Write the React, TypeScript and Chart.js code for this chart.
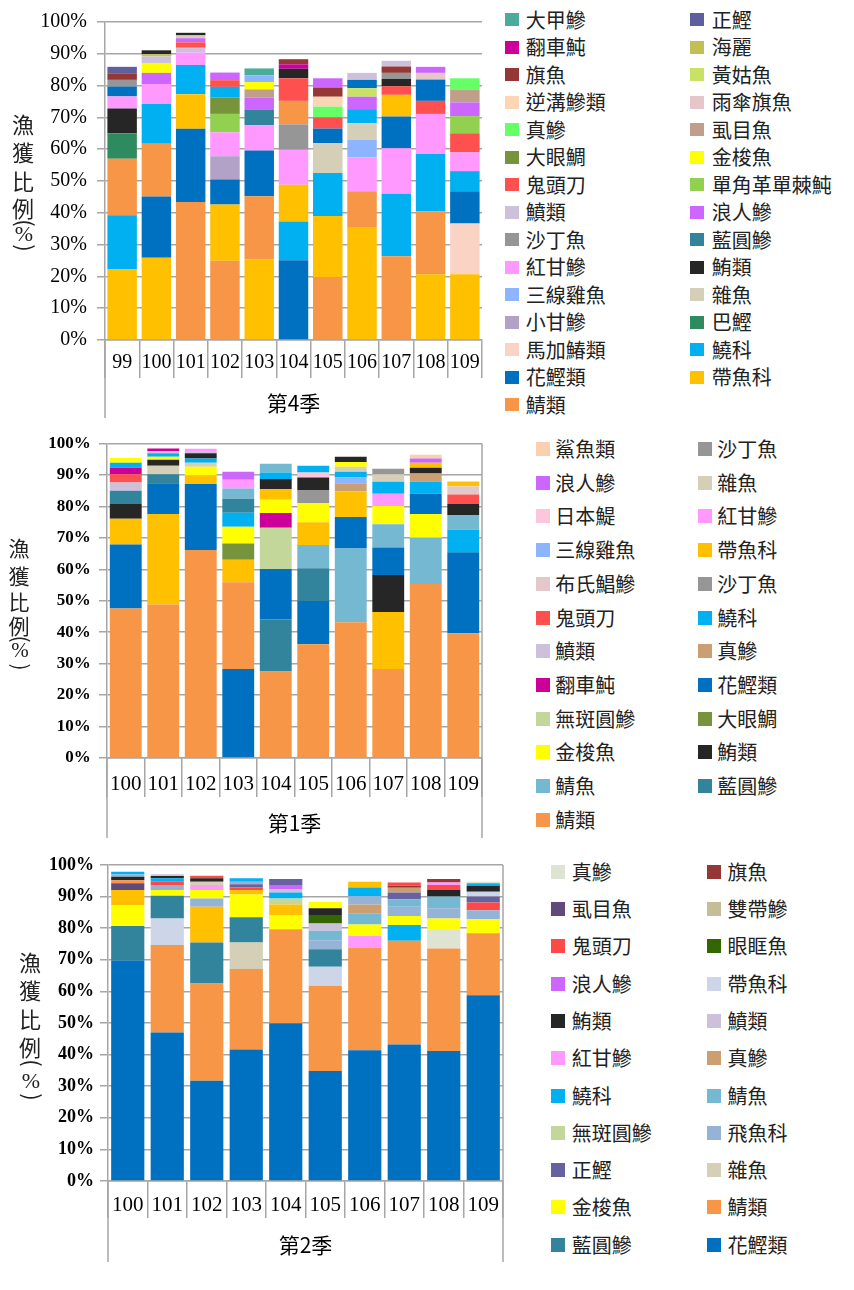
import React, { useEffect, useRef } from 'react';
import { Chart, registerables } from 'chart.js';

Chart.register(...registerables);

const SERIF = '"Liberation Serif", "Times New Roman", serif';
const CJK = '"Noto Sans CJK TC", "Noto Sans CJK SC", sans-serif';
const GRID = '#a6a6a6';

// ---------------- 第4季 ----------------
const q4Years = ['99', '100', '101', '102', '103', '104', '105', '106', '107', '108', '109'];
const q4Species: string[][] = [
  ['帶魚科', '鱙科', '鯖類', '巴鰹', '鮪類', '紅甘鰺', '花鰹類', '沙丁魚', '旗魚', '正鰹'],
  ['帶魚科', '花鰹類', '鯖類', '鱙科', '紅甘鰺', '浪人鰺', '金梭魚', '鱝類', '海麗', '鮪類'],
  ['鯖類', '花鰹類', '帶魚科', '鱙科', '紅甘鰺', '鱝類', '鬼頭刀', '浪人鰺', '雜魚', '鮪類'],
  ['鯖類', '帶魚科', '花鰹類', '小甘鰺', '紅甘鰺', '單角革單棘魨', '大眼鯛', '鱙科', '鬼頭刀', '浪人鰺'],
  ['帶魚科', '鯖類', '花鰹類', '紅甘鰺', '藍圓鰺', '浪人鰺', '虱目魚', '金梭魚', '三線雞魚', '大甲鰺'],
  ['花鰹類', '鱙科', '帶魚科', '紅甘鰺', '沙丁魚', '鯖類', '鬼頭刀', '鮪類', '翻車魨', '旗魚'],
  ['鯖類', '帶魚科', '鱙科', '雜魚', '花鰹類', '鬼頭刀', '真鰺', '逆溝鰺類', '旗魚', '浪人鰺'],
  ['帶魚科', '鯖類', '紅甘鰺', '三線雞魚', '雜魚', '鱙科', '浪人鰺', '黃姑魚', '花鰹類', '鱝類'],
  ['鯖類', '鱙科', '紅甘鰺', '花鰹類', '帶魚科', '鬼頭刀', '鮪類', '沙丁魚', '旗魚', '鱝類'],
  ['帶魚科', '鯖類', '鱙科', '紅甘鰺', '鬼頭刀', '花鰹類', '雨傘旗魚', '浪人鰺'],
  ['帶魚科', '馬加鰆類', '花鰹類', '鱙科', '紅甘鰺', '鬼頭刀', '單角革單棘魨', '浪人鰺', '虱目魚', '真鰺'],
];
const q4Values: number[][] = [
  [22.3, 16.9, 17.8, 8.0, 7.8, 3.8, 3.1, 2.1, 1.9, 2.2],
  [25.9, 19.2, 16.6, 12.5, 6.3, 3.5, 3.1, 2.1, 0.7, 1.2],
  [43.4, 23.0, 10.9, 9.2, 3.9, 1.5, 1.7, 1.3, 0.9, 0.8],
  [24.9, 17.7, 7.9, 7.3, 7.5, 5.8, 5.1, 3.4, 2.1, 2.4],
  [25.3, 19.9, 14.4, 8.0, 4.9, 3.7, 2.6, 2.3, 2.1, 2.2],
  [25.1, 12.2, 11.5, 11.0, 8.0, 7.4, 7.1, 3.0, 1.4, 1.6],
  [19.8, 19.2, 13.5, 9.4, 4.6, 3.5, 3.4, 3.1, 2.9, 2.9],
  [35.3, 11.5, 10.7, 5.5, 5.2, 4.4, 3.9, 2.7, 2.6, 2.2],
  [26.3, 19.7, 14.3, 10.0, 6.8, 2.7, 2.3, 1.9, 2.0, 1.8],
  [20.7, 19.7, 18.1, 12.6, 4.1, 6.7, 2.1, 1.9],
  [20.7, 15.9, 10.2, 6.3, 5.9, 6.0, 5.4, 4.3, 3.9, 3.7],
];
const q4LegendLeft = ['大甲鰺', '翻車魨', '旗魚', '逆溝鰺類', '真鰺', '大眼鯛', '鬼頭刀', '鱝類', '沙丁魚', '紅甘鰺', '三線雞魚', '小甘鰺', '馬加鰆類', '花鰹類', '鯖類'];
const q4LegendRight = ['正鰹', '海麗', '黃姑魚', '雨傘旗魚', '虱目魚', '金梭魚', '單角革單棘魨', '浪人鰺', '藍圓鰺', '鮪類', '雜魚', '巴鰹', '鱙科', '帶魚科'];
const q4Colors: Record<string, string> = {
  '大甲鰺': '#4bab9c', '翻車魨': '#cc0099', '旗魚': '#953735', '逆溝鰺類': '#fcd5b5', '真鰺': '#66ff66',
  '大眼鯛': '#77933c', '鬼頭刀': '#ff5050', '鱝類': '#ccc0da', '沙丁魚': '#969696', '紅甘鰺': '#ff99ff',
  '三線雞魚': '#8db4ff', '小甘鰺': '#b3a2c7', '馬加鰆類': '#fad3c5', '花鰹類': '#0070c0', '鯖類': '#f79646',
  '正鰹': '#5f5f9f', '海麗': '#c3be55', '黃姑魚': '#c9e265', '雨傘旗魚': '#e6c6c8', '虱目魚': '#bf9e8a',
  '金梭魚': '#ffff00', '單角革單棘魨': '#92d050', '浪人鰺': '#cc66ff', '藍圓鰺': '#31849b', '鮪類': '#262626',
  '雜魚': '#d5cfb7', '巴鰹': '#2e8b5f', '鱙科': '#00b0f0', '帶魚科': '#ffc000',
};

// ---------------- 第1季 ----------------
const q1Years = ['100', '101', '102', '103', '104', '105', '106', '107', '108', '109'];
const q1Species: string[][] = [
  ['鯖類', '花鰹類', '帶魚科', '鮪類', '藍圓鰺', '鱝類', '鬼頭刀', '翻車魨', '鱙科', '金梭魚'],
  ['鯖類', '帶魚科', '花鰹類', '藍圓鰺', '雜魚', '鮪類', '金梭魚', '鱙科', '鱝類', '翻車魨'],
  ['鯖類', '花鰹類', '帶魚科', '金梭魚', '雜魚', '鱙科', '鮪類', '鱝類', '紅甘鰺'],
  ['花鰹類', '鯖類', '帶魚科', '大眼鯛', '金梭魚', '鱙科', '藍圓鰺', '鯖魚', '紅甘鰺', '浪人鰺'],
  ['鯖類', '藍圓鰺', '花鰹類', '無斑圓鰺', '翻車魨', '金梭魚', '帶魚科', '鮪類', '鱙科', '鯖魚'],
  ['鯖類', '花鰹類', '藍圓鰺', '鯖魚', '帶魚科', '金梭魚', '沙丁魚', '鮪類', '日本鯷', '鱙科'],
  ['鯖類', '鯖魚', '花鰹類', '帶魚科', '真鰺', '三線雞魚', '鱙科', '雜魚', '金梭魚', '鮪類'],
  ['鯖類', '帶魚科', '鮪類', '花鰹類', '鯖魚', '金梭魚', '紅甘鰺', '鱙科', '雜魚', '沙丁魚'],
  ['鯖類', '鯖魚', '金梭魚', '花鰹類', '鱙科', '真鰺', '鮪類', '帶魚科', '浪人鰺', '鯊魚類'],
  ['鯖類', '花鰹類', '鱙科', '鯖魚', '鮪類', '鬼頭刀', '布氏鯧鰺', '帶魚科'],
];
const q1Values: number[][] = [
  [47.5, 20.4, 8.2, 4.7, 4.2, 2.6, 2.6, 2.1, 1.6, 1.5],
  [48.8, 28.8, 9.8, 2.8, 2.7, 1.9, 1.0, 1.1, 0.6, 0.9],
  [66.1, 21.0, 2.8, 2.7, 1.3, 1.3, 1.7, 0.7, 0.7],
  [28.3, 27.6, 7.1, 5.2, 5.3, 4.5, 4.4, 3.3, 2.8, 2.5],
  [27.5, 16.6, 16.0, 13.1, 4.7, 4.2, 3.4, 3.2, 2.1, 2.8],
  [36.2, 13.7, 10.4, 7.4, 7.3, 6.1, 4.1, 4.0, 1.6, 2.1],
  [43.2, 23.4, 10.0, 8.1, 2.7, 1.8, 1.8, 1.6, 1.5, 1.7],
  [28.3, 18.1, 11.8, 8.7, 7.4, 5.8, 3.9, 3.8, 2.4, 1.8],
  [55.3, 14.7, 7.6, 6.4, 3.8, 2.7, 1.8, 1.6, 1.3, 1.2],
  [39.7, 25.7, 7.2, 4.7, 3.5, 3.0, 2.6, 1.5],
];
const q1LegendLeft = ['鯊魚類', '浪人鰺', '日本鯷', '三線雞魚', '布氏鯧鰺', '鬼頭刀', '鱝類', '翻車魨', '無斑圓鰺', '金梭魚', '鯖魚', '鯖類'];
const q1LegendRight = ['沙丁魚', '雜魚', '紅甘鰺', '帶魚科', '沙丁魚#2', '鱙科', '真鰺', '花鰹類', '大眼鯛', '鮪類', '藍圓鰺'];
const q1Colors: Record<string, string> = {
  '鯊魚類': '#fad0b0', '浪人鰺': '#cc66ff', '日本鯷': '#fcc6dc', '三線雞魚': '#8db4ff', '布氏鯧鰺': '#e2c8c8',
  '鬼頭刀': '#ff5050', '鱝類': '#ccc0da', '翻車魨': '#cc0099', '無斑圓鰺': '#c4d79b', '金梭魚': '#ffff00',
  '鯖魚': '#74b8d2', '鯖類': '#f79646', '沙丁魚': '#969696', '雜魚': '#d5cfb7', '紅甘鰺': '#ff99ff',
  '帶魚科': '#ffc000', '沙丁魚#2': '#969696', '鱙科': '#00b0f0', '真鰺': '#cc9f72', '花鰹類': '#0070c0',
  '大眼鯛': '#77933c', '鮪類': '#262626', '藍圓鰺': '#31849b',
};

// ---------------- 第2季 ----------------
const q2Years = ['100', '101', '102', '103', '104', '105', '106', '107', '108', '109'];
const q2Species: string[][] = [
  ['花鰹類', '藍圓鰺', '金梭魚', '其他', '虱目魚', '鯖類', '鮪類', '飛魚科', '鱙科'],
  ['花鰹類', '鯖類', '帶魚科', '藍圓鰺', '金梭魚', '飛魚科', '鬼頭刀', '鱙科', '鮪類', '鱝類'],
  ['花鰹類', '鯖類', '藍圓鰺', '其他', '飛魚科', '金梭魚', '紅甘鰺', '雜魚', '鮪類', '鬼頭刀'],
  ['花鰹類', '鯖類', '雜魚', '藍圓鰺', '金梭魚', '其他', '鬼頭刀', '正鰹', '飛魚科', '鱙科'],
  ['花鰹類', '鯖類', '金梭魚', '其他', '無斑圓鰺', '鱙科', '鱝類', '浪人鰺', '正鰹'],
  ['花鰹類', '鯖類', '帶魚科', '藍圓鰺', '飛魚科', '鯖魚', '鱝類', '眼眶魚', '鮪類', '金梭魚'],
  ['花鰹類', '鯖類', '紅甘鰺', '金梭魚', '鯖魚', '真鰺', '飛魚科', '鱙科', '其他'],
  ['花鰹類', '鯖類', '鱙科', '金梭魚', '飛魚科', '鯖魚', '正鰹', '真鰺', '旗魚', '鬼頭刀'],
  ['花鰹類', '鯖類', '真鰺#2', '金梭魚', '飛魚科', '鯖魚', '鮪類', '鬼頭刀', '紅甘鰺', '旗魚'],
  ['花鰹類', '鯖類', '金梭魚', '飛魚科', '鬼頭刀', '正鰹', '帶魚科', '鮪類', '鱙科', '真鰺#2'],
];
const q2Values: number[][] = [
  [69.8, 10.9, 6.6, 4.8, 2.1, 1.0, 1.1, 0.7, 0.9],
  [47.0, 27.7, 8.4, 7.2, 1.8, 1.6, 1.0, 1.1, 0.7, 0.6],
  [31.7, 30.8, 13.0, 11.3, 2.6, 2.7, 1.6, 1.0, 1.1, 0.8],
  [41.6, 25.5, 8.4, 8.0, 7.2, 1.4, 0.8, 1.0, 0.8, 1.1],
  [49.9, 29.8, 4.5, 3.3, 1.9, 1.9, 1.1, 1.3, 1.9],
  [34.8, 27.0, 6.0, 5.5, 2.9, 3.0, 2.3, 2.7, 2.1, 2.1],
  [41.4, 32.4, 3.7, 3.7, 3.5, 2.8, 2.7, 2.7, 1.8],
  [43.2, 32.8, 5.0, 2.9, 2.9, 2.4, 2.1, 1.5, 0.6, 1.1],
  [41.1, 32.5, 5.8, 3.7, 3.2, 3.7, 2.1, 1.6, 0.8, 1.1],
  [58.8, 19.6, 4.4, 2.9, 2.4, 1.9, 1.5, 1.9, 0.8, 0.5],
];
const q2LegendLeft = ['真鰺#2', '虱目魚', '鬼頭刀', '浪人鰺', '鮪類', '紅甘鰺', '鱙科', '無斑圓鰺', '正鰹', '金梭魚', '藍圓鰺'];
const q2LegendRight = ['旗魚', '雙帶鰺', '眼眶魚', '帶魚科', '鱝類', '真鰺', '鯖魚', '飛魚科', '雜魚', '鯖類', '花鰹類'];
const q2Colors: Record<string, string> = {
  '真鰺#2': '#dfe4d2', '虱目魚': '#604a7b', '鬼頭刀': '#ff4848', '浪人鰺': '#cc66ff', '鮪類': '#262626',
  '紅甘鰺': '#ff99ff', '鱙科': '#00b0f0', '無斑圓鰺': '#c4d79b', '正鰹': '#66629f', '金梭魚': '#ffff00',
  '藍圓鰺': '#31849b', '旗魚': '#953735', '雙帶鰺': '#c4bd97', '眼眶魚': '#336600', '帶魚科': '#cdd5e8',
  '鱝類': '#ccc0da', '真鰺': '#cc9f72', '鯖魚': '#74b8d2', '飛魚科': '#95b3d7', '雜魚': '#d5cfb7',
  '鯖類': '#f79646', '花鰹類': '#0070c0', '其他': '#ffc000',
};

const yTitleChars = Array.from('漁獲比例(%)');

type Layout = {
  top: number; width: number; height: number;
  left: number; right: number; areaTop: number; areaBottom: number;
  yFont: number; yWeight: string; yPad: number;
  xFont: number; xPad: number; sepLen: number; titlePb: number; title: string;
  drop: number; rightFrame: boolean; barPct: number;
  yTitleX: number; yTitleYs: number[]; yTitleSize: number;
};

type Block = {
  layout: Layout; years: string[]; species: string[][]; values: number[][];
  colors: Record<string, string>; legendLeft: string[]; legendRight: string[];
  legend: { lx: number; rx: number; gapL: number; gapR: number; firstY: number; pitch: number; boxW: number; boxH: number };
};

const blocks: Block[] = [
  {
    layout: {
      top: 0, width: 500, height: 425, left: 105, right: 482, areaTop: 21, areaBottom: 340,
      yFont: 20, yWeight: 'normal', yPad: 10, xFont: 20, xPad: -27, sepLen: 38, titlePb: 9.4, title: '第4季',
      drop: 78, rightFrame: false, barPct: 0.86, yTitleX: 23, yTitleYs: [125, 153, 182, 209, 223, 235, 248], yTitleSize: 22,
    },
    years: q4Years, species: q4Species, values: q4Values, colors: q4Colors,
    legendLeft: q4LegendLeft, legendRight: q4LegendRight,
    legend: { lx: 505, rx: 690, gapL: 20.7, gapR: 21.7, firstY: 19.5, pitch: 27.5, boxW: 14, boxH: 13 },
  },
  {
    layout: {
      top: 425, width: 500, height: 420, left: 107, right: 482, areaTop: 441, areaBottom: 758,
      yFont: 17, yWeight: 'bold', yPad: 8.3, xFont: 21, xPad: -25.6, sepLen: 39, titlePb: 9.7, title: '第1季',
      drop: 80, rightFrame: true, barPct: 0.85, yTitleX: 19, yTitleYs: [548, 576, 602, 626, 639, 651, 667], yTitleSize: 21,
    },
    years: q1Years, species: q1Species, values: q1Values, colors: q1Colors,
    legendLeft: q1LegendLeft, legendRight: q1LegendRight,
    legend: { lx: 536, rx: 698, gapL: 19.3, gapR: 19.3, firstY: 449, pitch: 33.7, boxW: 14, boxH: 14 },
  },
  {
    layout: {
      top: 845, width: 520, height: 430, left: 108, right: 503, areaTop: 865, areaBottom: 1181,
      yFont: 18, yWeight: 'bold', yPad: 6, xFont: 21, xPad: -24.9, sepLen: 37, titlePb: 17.4, title: '第2季',
      drop: 81, rightFrame: true, barPct: 0.84, yTitleX: 30, yTitleYs: [963, 991, 1020, 1048, 1063, 1082, 1097], yTitleSize: 22,
    },
    years: q2Years, species: q2Species, values: q2Values, colors: q2Colors,
    legendLeft: q2LegendLeft, legendRight: q2LegendRight,
    legend: { lx: 551, rx: 707, gapL: 20.7, gapR: 20.6, firstY: 871.7, pitch: 37.3, boxW: 14, boxH: 14 },
  },
];

const labelOf = (k: string) => k.split('#')[0];

function StackedChart({ block }: { block: Block }) {
  const ref = useRef<HTMLCanvasElement>(null);
  useEffect(() => {
    const L = block.layout;
    const n = Math.max(...block.values.map((v) => v.length));
    const datasets = Array.from({ length: n }, (_, i) => ({
      label: '第' + (i + 1) + '層',
      data: block.values.map((v) => (v[i] === undefined ? null : v[i])),
      backgroundColor: block.species.map((s) => (s[i] ? block.colors[s[i]] : 'rgba(0,0,0,0)')),
      borderWidth: 0,
      barPercentage: L.barPct,
      categoryPercentage: 1,
    }));
    const extras = {
      id: 'extras',
      afterDraw(chart: any) {
        const ctx = chart.ctx;
        const a = chart.chartArea;
        ctx.save();
        ctx.strokeStyle = GRID;
        ctx.lineWidth = 1.5;
        ctx.beginPath();
        ctx.moveTo(a.left, a.bottom);
        ctx.lineTo(a.left, a.bottom + L.drop);
        if (L.rightFrame) {
          ctx.moveTo(a.right, a.top);
          ctx.lineTo(a.right, a.bottom + L.drop);
        }
        ctx.stroke();
        ctx.fillStyle = '#222';
        ctx.textAlign = 'center';
        ctx.textBaseline = 'middle';
        const fs = L.yTitleSize;
        yTitleChars.forEach((ch, i) => {
          const x = L.yTitleX;
          const y = L.yTitleYs[i] - L.top;
          if (ch === '(' || ch === ')') {
            ctx.save();
            ctx.translate(x + 2, y);
            ctx.rotate(Math.PI / 2);
            ctx.font = `${fs}px ${CJK}`;
            ctx.fillText(ch, 0, 0);
            ctx.restore();
          } else if (ch === '%') {
            ctx.font = `${fs}px ${SERIF}`;
            ctx.fillText(ch, x + 1, y);
          } else {
            ctx.font = `${fs}px ${CJK}`;
            ctx.fillText(ch, x, y);
          }
        });
        ctx.restore();
      },
    };
    const chart = new Chart(ref.current as HTMLCanvasElement, {
      type: 'bar',
      data: { labels: block.years, datasets },
      plugins: [extras],
      options: {
        responsive: false,
        maintainAspectRatio: false,
        animation: false,
        layout: { padding: { left: 0, top: L.areaTop - L.top, right: L.width - L.right, bottom: 0 } },
        plugins: { legend: { display: false }, tooltip: { enabled: false } },
        scales: {
          x: {
            stacked: true,
            offset: true,
            grid: { offset: true, drawOnChartArea: false, drawTicks: true, tickLength: L.sepLen, color: GRID, lineWidth: 1.5 },
            border: { display: true, color: GRID, width: 1.5 },
            ticks: { font: { family: SERIF, size: L.xFont }, color: '#000', padding: L.xPad, maxRotation: 0, autoSkip: false },
            title: {
              display: true, text: L.title, color: '#000',
              font: { family: CJK, size: 21 }, padding: { top: 0, bottom: L.titlePb },
            },
            afterFit: (s: any) => { s.height = L.top + L.height - L.areaBottom; },
          },
          y: {
            stacked: true,
            min: 0,
            max: 100,
            ticks: {
              stepSize: 10,
              callback: (v: any) => v + '%',
              font: { family: SERIF, size: L.yFont, weight: L.yWeight as any },
              color: '#000',
              padding: L.yPad,
            },
            grid: { color: GRID, lineWidth: 1.5, tickLength: 8, drawTicks: true },
            border: { display: true, color: GRID, width: 1.5 },
            afterFit: (s: any) => { s.width = L.left; },
          },
        },
      } as any,
    });
    return () => chart.destroy();
  }, [block]);
  const L = block.layout;
  return (
    <canvas
      ref={ref}
      width={L.width}
      height={L.height}
      style={{ position: 'absolute', left: 0, top: L.top, width: L.width, height: L.height }}
    />
  );
}

function Legend({ block }: { block: Block }) {
  const g = block.legend;
  const items: { k: string; x: number; gap: number; y: number }[] = [];
  block.legendLeft.forEach((k, i) => items.push({ k, x: g.lx, gap: g.gapL, y: g.firstY + i * g.pitch }));
  block.legendRight.forEach((k, i) => items.push({ k, x: g.rx, gap: g.gapR, y: g.firstY + i * g.pitch }));
  return (
    <>
      {items.map((it, i) => (
        <React.Fragment key={i}>
          <div
            style={{
              position: 'absolute', left: it.x, top: it.y - g.boxH / 2, width: g.boxW, height: g.boxH,
              background: block.colors[it.k],
            }}
          />
          <div
            style={{
              position: 'absolute', left: it.x + it.gap, top: it.y - 12, height: 24, lineHeight: '24px',
              fontSize: 20, fontFamily: CJK, color: '#222', whiteSpace: 'nowrap',
            }}
          >
            {labelOf(it.k)}
          </div>
        </React.Fragment>
      ))}
    </>
  );
}

export default function App() {
  return (
    <div style={{ position: 'absolute', left: 0, top: 0, width: 854, height: 1290, background: '#fff', overflow: 'hidden' }}>
      {blocks.map((b, i) => (
        <React.Fragment key={i}>
          <StackedChart block={b} />
          <Legend block={b} />
        </React.Fragment>
      ))}
    </div>
  );
}
